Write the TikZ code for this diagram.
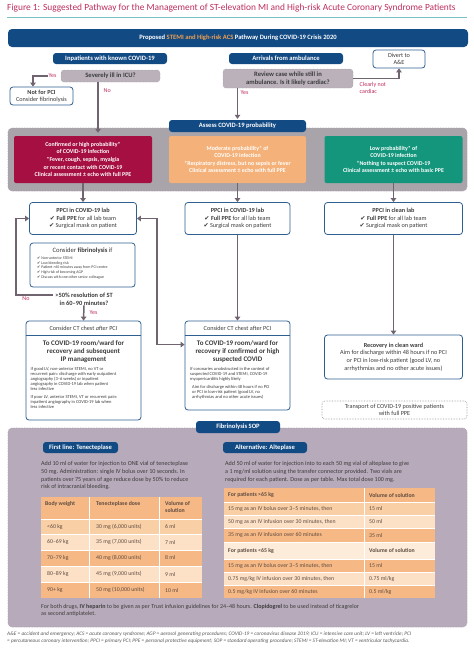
\documentclass[tikz,border=0pt]{standalone}
\usepackage{fontspec}
\setmainfont{Carlito}
\newfontfamily\symfont{DejaVu Sans}
\usetikzlibrary{arrows.meta,positioning,calc}

\definecolor{navy}{RGB}{18,74,132}
\definecolor{rosetxt}{RGB}{190,45,95}
\definecolor{tealline}{RGB}{120,195,195}
\definecolor{accent}{RGB}{240,160,80}
\definecolor{crimson}{RGB}{165,15,65}
\definecolor{peach}{RGB}{244,178,122}
\definecolor{jade}{RGB}{20,150,125}
\definecolor{zonegrey}{RGB}{168,164,170}
\definecolor{askgrey}{RGB}{186,177,186}
\definecolor{mauve}{RGB}{183,170,186}
\definecolor{boxblue}{RGB}{45,95,145}
\definecolor{wire}{RGB}{112,100,112}
\definecolor{inktxt}{RGB}{60,60,60}
\definecolor{tabtxt}{RGB}{95,75,65}
\definecolor{orangeA}{RGB}{246,185,133}
\definecolor{orangeB}{RGB}{249,207,166}
\definecolor{orangeC}{RGB}{252,225,198}
\definecolor{orangeD}{RGB}{253,236,218}

\newcommand\fsz[2]{\fontsize{#1}{#2}\selectfont}
\newcommand\tick{{\symfont ✔}}

\begin{document}
\begin{tikzpicture}[
    x=1pt, y=-1pt,
    hdr/.style={fill=navy, rounded corners=3pt, text=white, font=\bfseries\fsz{6.6}{7.6}, inner sep=0pt, minimum height=11pt},
    askbox/.style={fill=askgrey, draw=wire!80, densely dotted, rounded corners=3pt, text=inktxt, font=\bfseries\fsz{6.6}{7.6}, align=center, inner sep=0pt},
    wbox/.style={fill=white, draw=boxblue, line width=0.8pt, rounded corners=3pt, text=inktxt, align=center, inner sep=0pt},
    prob/.style={rounded corners=2pt, text=white, font=\bfseries\fsz{5.9}{7.6}, align=center, inner sep=0pt, minimum width=137pt, minimum height=47pt},
    flow/.style={draw=wire, line width=1.5pt, -{Triangle[length=4pt,width=5.5pt]}},
    flowboth/.style={draw=wire, line width=1.5pt, {Triangle[length=4pt,width=5.5pt]}-{Triangle[length=4pt,width=5.5pt]}},
    yn/.style={text=rosetxt, font=\fsz{6}{7}, inner sep=0.5pt},
    zone/.style={rounded corners=4pt, densely dotted, draw=wire!60, line width=0.6pt},
    txt/.style={text=inktxt, inner sep=0pt},
    cell/.style={text=tabtxt, inner sep=0pt, anchor=west, font=\fsz{5.8}{7}}
]
\useasboundingbox[fill=white] (0,0) rectangle (474,654);

% Title
\node[anchor=west, inner sep=0pt, text=rosetxt, font=\fsz{9.4}{11}] (title) at (7,8) {Figure 1: Suggested Pathway for the Management of ST-elevation MI and High-risk Acute Coronary Syndrome Patients};
\draw[tealline, line width=0.7pt] (7,17) -- (467,17);

% Zones
\draw[zone, fill=zonegrey] (8,128) rectangle (467,191);
\draw[zone, fill=mauve] (8,428) rectangle (467,627);

% Top of pathway
\node[hdr, minimum width=460pt, minimum height=18pt, rounded corners=4pt] (banner) at (238,38) {Proposed \textcolor{accent}{STEMI and High-risk ACS} Pathway During COVID-19 Crisis 2020};
\node[hdr, minimum width=114pt] (inpat) at (110,58.5) {Inpatients with known COVID-19};
\node[hdr, minimum width=114pt] (arrive) at (286,58.5) {Arrivals from ambulance};
\node[wbox, minimum width=52pt, minimum height=18pt, font=\fsz{6.2}{7}] (divert) at (399,59) {Divert to\\A\&E};

\node[askbox, minimum width=99pt, minimum height=12pt] (icu) at (110.5,76) {Severely ill in ICU?};
\node[askbox, minimum width=130pt, minimum height=19pt] (review) at (288,78.5) {Review case while still in\\ambulance. Is it likely cardiac?};
\node[wbox, minimum width=63pt, minimum height=18pt, font=\fsz{6.2}{7}] (nopci) at (41.5,96) {\textbf{Not for PCI}\\Consider fibrinolysis};

\node[yn] (yesicu) at (52.5,76) {Yes};
\node[yn, anchor=west] (noicu) at (103,91) {No};
\node[yn, anchor=west] (yesrev) at (240,93) {Yes};
\node[yn, anchor=north west, align=left] (notcard) at (359,82) {Clearly not\\cardiac};

% Probability
\node[hdr, minimum width=137pt, minimum height=12pt] (assess) at (237.5,126) {Assess COVID-19 probability};
\node[prob, fill=crimson, minimum width=138pt] (conf) at (83,159.5) {Confirmed or high probability*\\of COVID-19 infection\\*Fever, cough, sepsis, myalgia\\or recent contact with COVID-19\\Clinical assessment ± echo with full PPE};
\node[prob, fill=peach] (mod) at (237.5,159.5) {Moderate probability* of\\COVID-19 infection\\*Respiratory distress, but no sepsis or fever\\Clinical assessment ± echo with full PPE};
\node[prob, fill=jade, minimum width=138pt] (low) at (393.5,159.5) {Low probability* of\\COVID-19 infection\\*Nothing to suspect COVID-19\\Clinical assessment ± echo with basic PPE};

% PPCI
\node[wbox, minimum width=107pt, minimum height=32pt, font=\fsz{6.2}{7.6}] (ppcia) at (83,218.5) {\textbf{PPCI in COVID-19 lab}\\\tick\ \textbf{Full PPE} for all lab team\\\tick\ Surgical mask on patient};
\node[wbox, minimum width=105pt, minimum height=32pt, font=\fsz{6.2}{7.6}] (ppcib) at (237.5,218.5) {\textbf{PPCI in COVID-19 lab}\\\tick\ \textbf{Full PPE} for all lab team\\\tick\ Surgical mask on patient};
\node[wbox, minimum width=138pt, minimum height=32pt, font=\fsz{6.2}{7.6}] (ppcic) at (393.5,218.5) {\textbf{PPCI in clean lab}\\\tick\ \textbf{Full PPE} for all lab team\\\tick\ Surgical mask on patient};

% Fibrinolysis check
\node[wbox, minimum width=105pt, minimum height=44pt] (fibr) at (82.5,265) {};
\node[txt, font=\fsz{6.6}{8}] (fibrhead) at (82.5,251) {Consider \textbf{fibrinolysis} if};
\node[txt, anchor=north west, align=left, font=\fsz{3.9}{4.7}] (fibrlist) at (37,256.5) {\tick\ Non-anterior STEMI\\\tick\ Low bleeding risk\\\tick\ Patient >60 minutes away from PCI centre\\\tick\ High risk of becoming AGP\\\tick\ Discuss with one other senior colleague};
\node[txt, font=\bfseries\fsz{6.4}{7.6}, align=center] (st50) at (84,299) {>50\% resolution of ST\\in 60–90 minutes?};
\node[yn] (nost) at (26,298.5) {No};
\node[yn, anchor=west] (yesst) at (89,313) {Yes};

% After PCI
\node[wbox, minimum width=115pt, minimum height=99pt] (ctl) at (83.5,370.5) {};
\node[txt, font=\fsz{6.2}{7}] (ctlhead) at (83.5,328) {Consider CT chest \textit{after} PCI};
\node[txt, font=\bfseries\fsz{7}{8}, align=center] (ctlmain) at (83.5,352) {To COVID-19 room/ward for\\recovery and subsequent\\IP management};
\node[txt, anchor=north west, align=left, font=\fsz{4.5}{5}] (ctlnote) at (30.5,367.5) {If good LV, non-anterior STEMI, no VT or\\recurrent pain: discharge with early outpatient\\angiography (3–6 weeks) or inpatient\\angiography in COVID-19 lab when patient\\less infective\\[2.5pt]If poor LV, anterior STEMI, VT or recurrent pain:\\inpatient angiography in COVID-19 lab when\\less infective};

\node[wbox, minimum width=105pt, minimum height=89pt] (ctm) at (237.5,365.5) {};
\node[txt, font=\fsz{6.2}{7}] (ctmhead) at (237.5,328) {Consider CT chest after PCI};
\node[txt, font=\bfseries\fsz{7}{8}, align=center] (ctmmain) at (237.5,352) {To COVID-19 room/ward for\\recovery if confirmed or high\\suspected COVID};
\node[txt, anchor=north west, align=left, font=\fsz{4.5}{5}] (ctmnote) at (190,367.5) {If coronaries unobstructed in the context of\\suspected COVID-19 and STEMI, COVID-19\\myopericarditis highly likely\\[3pt]\hspace*{2pt}Aim for discharge within 48 hours if no PCI\\\hspace*{2pt}or PCI in low-risk patient (good LV, no\\\hspace*{2pt}arrhythmias and no other acute issues)};

\coordinate (sepline) at (0,335);
\draw[boxblue, line width=0.8pt] (ctl.west |- sepline) -- (ctl.east |- sepline);
\draw[boxblue, line width=0.8pt] (ctm.west |- sepline) -- (ctm.east |- sepline);

\node[wbox, minimum width=138pt, minimum height=44pt, font=\fsz{6.2}{7.6}] (rec) at (393.5,357) {\textbf{Recovery in clean ward}\\Aim for discharge within 48 hours if no PCI\\or PCI in low-risk patient (good LV, no\\arrhythmias and no other acute issues)};
\node[draw=wire!70, densely dotted, line width=0.6pt, rounded corners=3pt, fill=white, minimum width=145pt, minimum height=18pt, align=center, font=\fsz{6.2}{7.2}, text=inktxt, inner sep=0pt] (transp) at (394.5,410) {Transport of COVID-19 positive patients\\with full PPE};

% Connectors
\coordinate (icubend) at (33,76);
\draw[flow] (yesicu.west) -- (icubend) -- (icubend |- nopci.north);
\coordinate (nocol) at (98,0);
\draw[flow, shorten >=3pt] (icu.south -| nocol) -- (nocol |- conf.north);
\draw[flow, shorten >=1pt] (review.south -| assess.north) -- (assess.north);
\draw[flow] (review.east) -| (divert.south);
\draw[flow] (conf.south) -- (ppcia.north);
\draw[flow] (mod.south) -- (ppcib.north);
\draw[flow] (low.south) -- (ppcic.north);
\coordinate (loopl) at (16,0);
\coordinate (loopr) at (157,0);
\coordinate (stout) at ($(st50.west)+(-2,-4)$);
\draw[flow] (stout) -- (stout -| loopl) |- (ppcia.west);
\coordinate (ctmin) at ($(ctm.north west)+(0,24)$);
\draw[flowboth] (ppcia.east) -- (ppcia.east -| loopr) |- (ctmin);
\draw[flow] (st50.south) -- (ctl.north);
\draw[flow] (ppcib.south) -- (ctm.north);
\draw[flow] (ppcic.south) -- (rec.north);

% Fibrinolysis SOP
\node[hdr, minimum width=84pt, minimum height=12pt] (soptab) at (238,427) {Fibrinolysis SOP};
\node[hdr, minimum width=75pt] (tabten) at (80.5,447.5) {First line: Tenecteplase};
\node[hdr, minimum width=84pt] (tabalt) at (265,447.5) {Alternative: Alteplase};
\node[txt, anchor=north west, align=left, font=\fsz{6.1}{7.6}] (tentxt) at (41,461.5) {Add 10 ml of water for injection to ONE vial of tenecteplase\\50 mg. Administration: single IV bolus over 10 seconds. In\\patients over 75 years of age reduce dose by 50\% to reduce\\risk of intracranial bleeding.};
\node[txt, anchor=north west, align=left, font=\fsz{6.1}{7.6}] (alttxt) at (225,461.5) {Add 50 ml of water for injection into to each 50 mg vial of alteplase to give\\a 1 mg/ml solution using the transfer connector provided. Two vials are\\required for each patient. Dose as per table. Max total dose 100 mg.};

% Tenecteplase table
\foreach \ya/\yb/\c in {497/519/orangeA, 519/534/orangeB, 534/550/orangeC, 550/566/orangeA, 566/582/orangeC, 582/598/orangeA}
  \fill[\c] (41,\ya) rectangle (202,\yb);
\foreach \yy in {519,534,550,566,582}
  \draw[white, line width=0.8pt] (41,\yy) -- (202,\yy);
\foreach \xx in {89,159}
  \draw[white, line width=0.8pt] (\xx,497) -- (\xx,598);
\node[cell, anchor=north west, font=\bfseries\fsz{5.8}{7}] (tw0) at (45,501) {Body weight};
\node[cell, anchor=north west, font=\bfseries\fsz{5.8}{7}] (td0) at (96,501) {Tenecteplase dose};
\node[cell, anchor=north west, align=left, font=\bfseries\fsz{5.8}{7}] (tv0) at (165,501) {Volume of\\solution};
\foreach \yy/\w/\d/\v [count=\i] in {526.5/{<60 kg}/{30 mg (6,000 units)}/6 ml, 542/{60–69 kg}/{35 mg (7,000 units)}/7 ml, 558/{70–79 kg}/{40 mg (8,000 units)}/8 ml, 574/{80–89 kg}/{45 mg (9,000 units)}/9 ml, 590/{90+ kg}/{50 mg (10,000 units)}/10 ml}{
  \node[cell] (tw\i) at (47,\yy) {\w};
  \node[cell] (td\i) at (96,\yy) {\d};
  \node[cell] (tv\i) at (165,\yy) {\v};
}

% Alteplase table
\foreach \ya/\yb/\c in {488/502/orangeA, 502/515/orangeB, 515/528/orangeC, 528/542/orangeA, 542/559/orangeD, 559/572/orangeA, 572/585/orangeC, 585/598/orangeA}
  \fill[\c] (224,\ya) rectangle (435,\yb);
\foreach \yy in {502,515,528,542,559,572,585}
  \draw[white, line width=0.8pt] (224,\yy) -- (435,\yy);
\draw[white, line width=0.8pt] (364,488) -- (364,598);
\foreach \yy/\p/\v [count=\i] in {495/{\textbf{For patients >65 kg}}/{\textbf{Volume of solution}}, 508.5/{15 mg as an IV bolus over 3–5 minutes, then}/{15 ml}, 521.5/{50 mg as an IV infusion over 30 minutes, then}/{50 ml}, 535/{35 mg as an IV infusion over 60 minutes}/{35 ml}, 550.5/{\textbf{For patients <65 kg}}/{\textbf{Volume of solution}}, 565.5/{15 mg as an IV bolus over 3–5 minutes, then}/{15 ml}, 578.5/{0.75 mg/kg IV infusion over 30 minutes, then}/{0.75 ml/kg}, 591.5/{0.5 mg/kg IV infusion over 60 minutes}/{0.5 ml/kg}}{
  \node[cell] (ap\i) at (228,\yy) {\p};
  \node[cell] (av\i) at (369,\yy) {\v};
}

\node[txt, anchor=north west, align=left, font=\fsz{6}{7.3}] (both) at (41,604) {For both drugs, \textbf{IV heparin} to be given as per Trust infusion guidelines for 24–48 hours. \textbf{Clopidogrel} to be used instead of ticagrelor\\as second antiplatelet.};

% Abbreviations
\node[txt, anchor=north west, align=left, font=\itshape\fsz{5.3}{7}, text=inktxt!85] (abbr) at (7,632) {A\&E = accident and emergency; ACS = acute coronary syndrome; AGP = aerosol generating procedures; COVID-19 = coronavirus disease 2019; ICU = intensive care unit; LV = left ventricle; PCI\\= percutaneous coronary intervention; PPCI = primary PCI; PPE = personal protective equipment; SOP = standard operating procedure; STEMI = ST-elevation MI; VT = ventricular tachycardia.};

\end{tikzpicture}
\end{document}
